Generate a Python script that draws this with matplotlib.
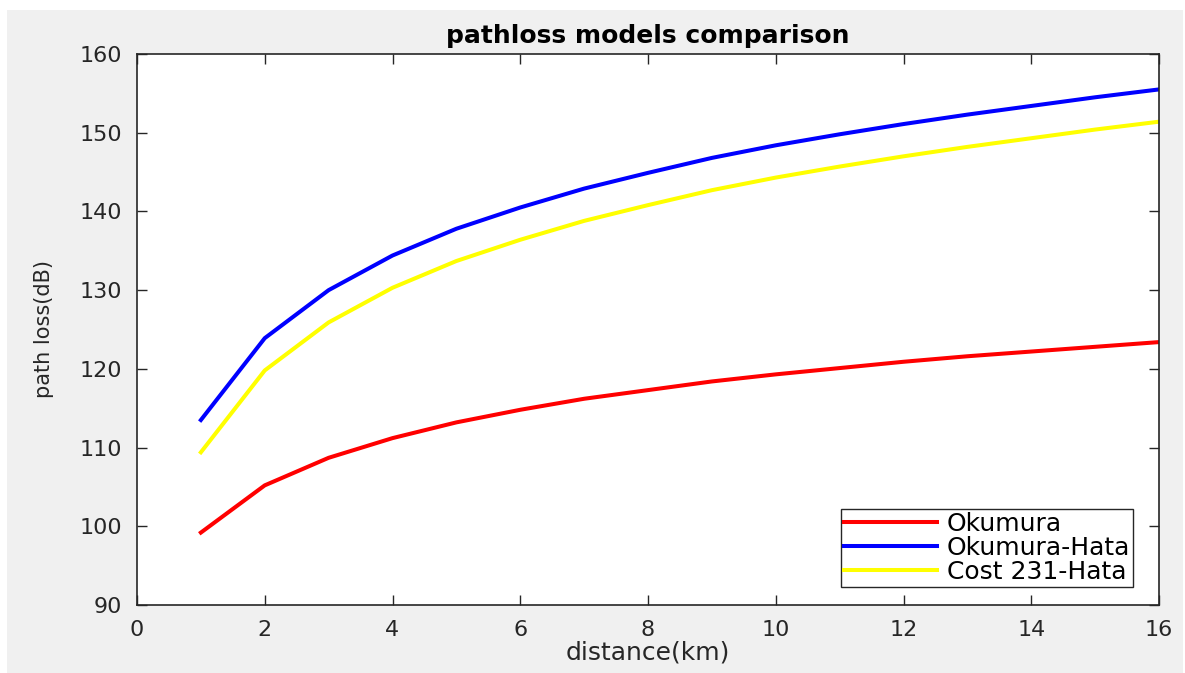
import matplotlib
matplotlib.use("Agg")
import matplotlib.pyplot as plt
from matplotlib.patches import Rectangle

plt.rcParams['font.family'] = ['DejaVu Sans']

distance = list(range(1, 17))
okumura = [99.2, 105.2, 108.7, 111.2, 113.2, 114.8, 116.2, 117.3, 118.4,
           119.3, 120.1, 120.9, 121.6, 122.2, 122.8, 123.4]
okumura_hata = [113.5, 123.9, 130.0, 134.4, 137.8, 140.5, 142.9, 144.9, 146.8,
                148.4, 149.8, 151.1, 152.3, 153.4, 154.5, 155.5]
cost231_hata = [109.4, 119.8, 125.9, 130.3, 133.7, 136.4, 138.8, 140.8, 142.7,
                144.3, 145.7, 147.0, 148.2, 149.3, 150.4, 151.4]

W, H = 1185, 673
fig = plt.figure(figsize=(W / 100, H / 100), dpi=100, facecolor='white')
# grey window area with thin white margin top/left, like the screenshot
fig.patches.append(Rectangle((7 / W, -0.01), (1183 - 7) / W, (H - 10) / H + 0.01,
                             transform=fig.transFigure, facecolor='#f0f0f0',
                             edgecolor='none', zorder=-10))

ax = fig.add_axes([137 / W, 1 - 605 / H, (1159 - 137) / W, (605 - 54) / H])

ax.plot(distance, okumura, color='#ff0000', lw=2.9, label='Okumura')
ax.plot(distance, okumura_hata, color='#0000ff', lw=2.9, label='Okumura-Hata')
ax.plot(distance, cost231_hata, color='#ffff00', lw=2.9, label='Cost 231-Hata')

ax.set_xlim(0, 16)
ax.set_ylim(90, 160)
ax.set_xticks(range(0, 17, 2))
ax.set_yticks(range(90, 161, 10))
ax.tick_params(direction='in', top=True, right=True, length=7, width=1,
               labelsize=16, colors='#262626', pad=11)
for s in ax.spines.values():
    s.set_color('#262626')
    s.set_linewidth(1.2)

ax.set_title('pathloss models comparison', fontsize=18, fontweight='bold', pad=8)
ax.set_xlabel('distance(km)', fontsize=18, color='#262626', labelpad=0)
ax.set_ylabel('path loss(dB)', fontsize=15, color='#262626', labelpad=18)

leg = ax.legend(loc='lower right', bbox_to_anchor=((1133 - 137) / 1022, 18 / 551),
                borderaxespad=0, fontsize=18, fancybox=False, framealpha=1,
                edgecolor='#262626', handlelength=3.7, handletextpad=0.4,
                labelspacing=0.0, borderpad=0.12)
leg.get_frame().set_linewidth(1.0)

fig.savefig('out.png', dpi=100, facecolor=fig.get_facecolor())
